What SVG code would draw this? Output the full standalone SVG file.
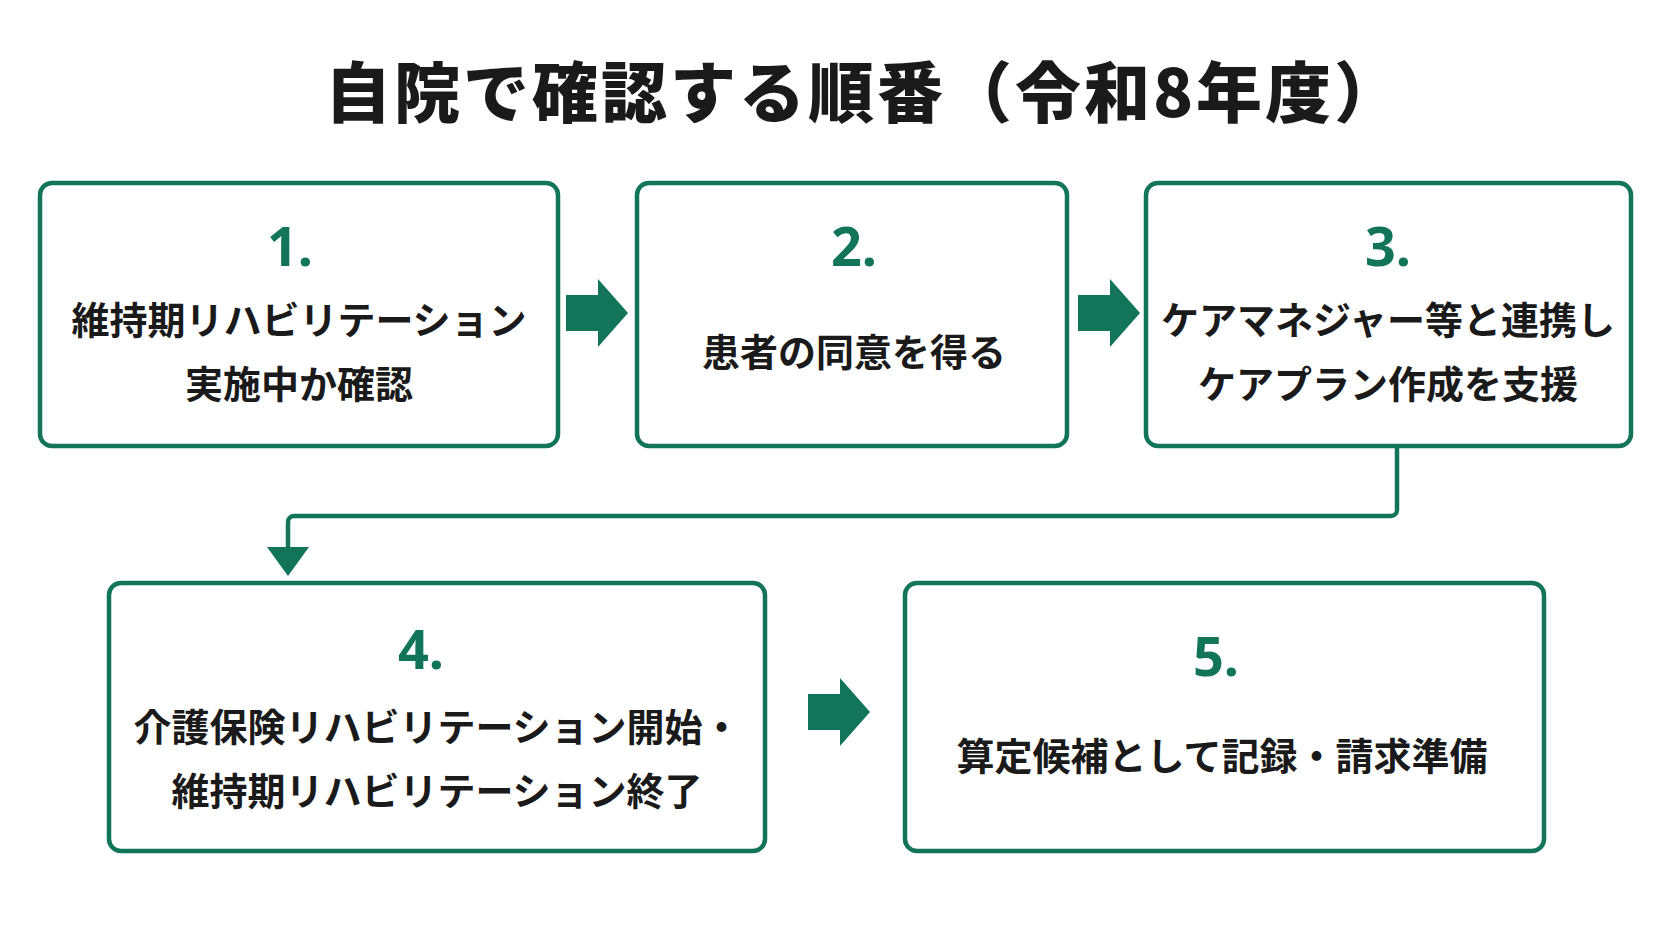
<svg xmlns="http://www.w3.org/2000/svg" width="1672" height="941" viewBox="0 0 1672 941">
<style>
.box{fill:#fff;stroke:#12755a;stroke-width:4.5}
.num{font-family:"Noto Sans",sans-serif;font-weight:700;font-size:54px;fill:#12755a;text-anchor:middle}
.t{font-family:"Noto Sans CJK JP",sans-serif;font-weight:700;font-size:38px;fill:#1a1a1a;text-anchor:middle}
.ttl{font-family:"Noto Sans CJK JP",sans-serif;font-weight:900;font-size:66px;fill:#1a1a1a;text-anchor:middle;letter-spacing:3px}
.blk{fill:#12755a}
</style>
<rect width="1672" height="941" fill="#fff"/>
<text class="ttl" x="864" y="117">自院で確認する順番（令和8年度）</text>
<g id="connectors">
<polygon class="blk" points="566,295 598,295 598,279 628,313 598,347 598,331 566,331"/>
<polygon class="blk" points="1078,295 1110,295 1110,279 1140,313 1110,347 1110,331 1078,331"/>
<polygon class="blk" points="808,694 840,694 840,678 870,712 840,746 840,730 808,730"/>
<path d="M1397,448 V510 a6,6 0 0 1 -6,6 H294 a6,6 0 0 0 -6,6 V548" fill="none" stroke="#12755a" stroke-width="4.5"/>
<polygon class="blk" points="267,547 309,547 288,576"/>
</g>
<g id="n1"><rect class="box" x="40" y="183" width="518" height="263" rx="12"/>
<text class="num" x="290" y="266">1.</text>
<text class="t" x="299" y="334">維持期リハビリテーション</text>
<text class="t" x="299" y="398">実施中か確認</text></g>
<g id="n2"><rect class="box" x="637" y="183" width="430" height="263" rx="12"/>
<text class="num" x="854" y="266">2.</text>
<text class="t" x="854" y="366">患者の同意を得る</text></g>
<g id="n3"><rect class="box" x="1146" y="183" width="485" height="263" rx="12"/>
<text class="num" x="1388" y="266">3.</text>
<text class="t" x="1388" y="334">ケアマネジャー等と連携し</text>
<text class="t" x="1388" y="398">ケアプラン作成を支援</text></g>
<g id="n4"><rect class="box" x="109" y="583" width="656" height="268" rx="12"/>
<text class="num" x="421" y="669">4.</text>
<text class="t" x="437" y="741">介護保険リハビリテーション開始・</text>
<text class="t" x="437" y="805">維持期リハビリテーション終了</text></g>
<g id="n5"><rect class="box" x="905" y="583" width="639" height="268" rx="12"/>
<text class="num" x="1216" y="676">5.</text>
<text class="t" x="1222" y="770">算定候補として記録・請求準備</text></g>
</svg>
